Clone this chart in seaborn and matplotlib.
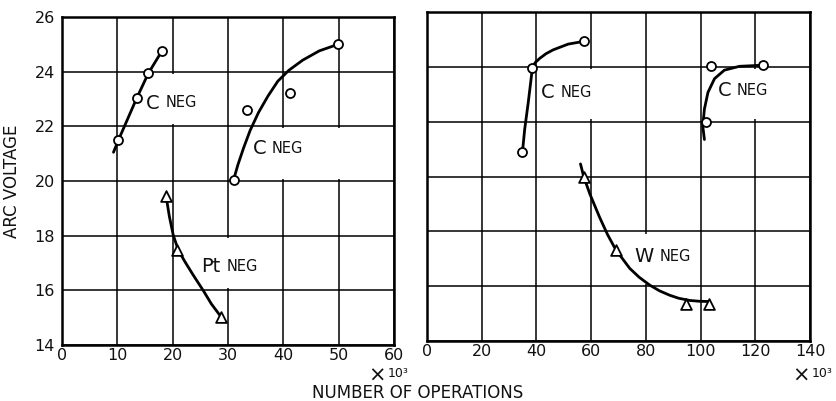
import matplotlib
matplotlib.use("Agg")
import matplotlib.pyplot as plt
from matplotlib.patches import Rectangle
import seaborn as sns
import pandas as pd

# ---- left panel: operations (x 10^3) vs arc voltage ----
c1_curve_x = [9.3, 10.2, 13.5, 15.6, 18.1]
c1_curve_y = [21.05, 21.5, 23.03, 23.94, 24.77]
c1_pts_x = [10.2, 13.5, 15.6, 18.1]
c1_pts_y = [21.5, 23.03, 23.94, 24.77]

c2_curve_x = [31.0, 31.8, 32.8, 34.0, 35.5, 37.2, 39.0, 41.0, 43.5, 46.5, 49.9]
c2_curve_y = [20.04, 20.6, 21.2, 21.85, 22.5, 23.1, 23.65, 24.05, 24.42, 24.76, 25.0]
c2_pts_x = [31.0, 33.4, 41.2, 49.9]
c2_pts_y = [20.04, 22.6, 23.2, 25.0]

pt_curve_x = [18.8, 19.4, 20.1, 21.0, 22.2, 23.7, 25.5, 27.0, 28.7]
pt_curve_y = [19.45, 18.7, 18.02, 17.48, 17.05, 16.56, 16.0, 15.5, 15.04]
pt_pts_x = [18.8, 20.8, 28.7]
pt_pts_y = [19.45, 17.48, 15.04]

# ---- right panel ----
c3_curve_x = [34.9, 35.7, 37.0, 37.9, 38.5, 39.5, 41.2, 43.5, 46.1, 51.6, 57.3]
c3_curve_y = [20.91, 21.72, 22.7, 23.44, 23.96, 24.15, 24.31, 24.48, 24.62, 24.83, 24.93]
c3_pts_x = [34.9, 38.5, 57.3]
c3_pts_y = [20.91, 23.96, 24.93]

c4_curve_x = [101.4, 100.8, 101.4, 102.7, 105.1, 108.7, 114.2, 122.7]
c4_curve_y = [21.35, 21.84, 22.46, 23.07, 23.57, 23.88, 24.02, 24.06]
c4_pts_x = [102.0, 103.9, 122.7]
c4_pts_y = [21.99, 24.02, 24.06]

w_curve_x = [56.1, 57.3, 59.5, 63.1, 66.0, 69.0, 74.1, 77.5, 81.4, 85.0,
             88.7, 92.0, 96.0, 99.5, 103.3]
w_curve_y = [20.46, 19.99, 19.37, 18.51, 17.88, 17.33, 16.65, 16.33, 16.04,
             15.83, 15.67, 15.56, 15.48, 15.45, 15.44]
w_pts_x = [57.3, 69.0, 94.7, 103.0]
w_pts_y = [19.99, 17.33, 15.36, 15.36]

y_ticks = [14, 16, 18, 20, 22, 24, 26]
x_ticks_left = [0, 10, 20, 30, 40, 50, 60]
x_ticks_right = [0, 20, 40, 60, 80, 100, 120, 140]

sns.set_theme(style="white")
plt.rcParams["font.family"] = ["DejaVu Sans"]

fig = plt.figure(figsize=(8.36, 4.01), dpi=100)
ax1 = fig.add_axes([0.0742, 0.1397, 0.3971, 0.818])
ax2 = fig.add_axes([0.5108, 0.1496, 0.4581, 0.8204])

INK = "#111111"


def draw_curve(ax, cx, cy, px, py, marker, msize):
    curve = pd.DataFrame({"x": cx, "y": cy})
    pts = pd.DataFrame({"x": px, "y": py})
    sns.lineplot(data=curve, x="x", y="y", ax=ax, sort=False, color="black",
                 lw=2.0, zorder=3, estimator=None)
    sns.scatterplot(data=pts, x="x", y="y", ax=ax, marker=marker, s=msize,
                    facecolor="white", edgecolor="black", linewidth=1.3,
                    zorder=4)


def label(ax, x, y, big, small, box):
    bx0, bx1, by0, by1 = box
    ax.add_patch(Rectangle((bx0, by0), bx1 - bx0, by1 - by0,
                           facecolor="white", edgecolor="none", zorder=1.5))
    t = ax.text(x, y, big, fontsize=14, va="center", ha="left", zorder=5,
                color=INK)
    ax.annotate(small, xy=(1, 0), xycoords=t, xytext=(4, 1.5),
                textcoords="offset points", fontsize=10.5, va="bottom",
                ha="left", zorder=5, color=INK)


def style(ax, xticks, xmax, show_y):
    ax.set_xlim(0, xmax)
    ax.set_ylim(14, 26)
    ax.set_xticks(xticks)
    ax.set_yticks(y_ticks)
    ax.set_xticklabels([str(v) for v in xticks], fontsize=11.5)
    if show_y:
        ax.set_yticklabels([str(v) for v in y_ticks], fontsize=11.5)
    else:
        ax.set_yticklabels([])
    ax.set_xlabel("")
    ax.set_ylabel("")
    ax.set_axisbelow(True)
    ax.grid(True, color="black", lw=1.1)
    for s in ax.spines.values():
        s.set_visible(True)
        s.set_color("black")
        s.set_linewidth(1.8)
    ax.tick_params(axis="both", length=0, pad=5, colors=INK)
    ax.tick_params(axis="x", pad=2.5)


draw_curve(ax1, c1_curve_x, c1_curve_y, c1_pts_x, c1_pts_y, "o", 42)
draw_curve(ax1, c2_curve_x, c2_curve_y, c2_pts_x, c2_pts_y, "o", 42)
draw_curve(ax1, pt_curve_x, pt_curve_y, pt_pts_x, pt_pts_y, "^", 60)
style(ax1, x_ticks_left, 60, True)
label(ax1, 15.2, 22.85, "C", "NEG", (14.8, 29.4, 22.08, 23.92))
label(ax1, 34.5, 21.2, "C", "NEG", (33.6, 59.6, 20.08, 21.92))
label(ax1, 25.2, 16.86, "Pt", "NEG", (22.5, 38.5, 16.08, 17.92))

draw_curve(ax2, c3_curve_x, c3_curve_y, c3_pts_x, c3_pts_y, "o", 42)
draw_curve(ax2, c4_curve_x, c4_curve_y, c4_pts_x, c4_pts_y, "o", 42)
draw_curve(ax2, w_curve_x, w_curve_y, w_pts_x, w_pts_y, "^", 60)
style(ax2, x_ticks_right, 140, False)
label(ax2, 41.8, 23.07, "C", "NEG", (41.0, 78.0, 22.08, 23.92))
label(ax2, 106.3, 23.14, "C", "NEG", (104.0, 136.0, 22.08, 23.92))
label(ax2, 75.9, 17.09, "W", "NEG", (72.0, 96.0, 16.08, 17.92))

# multiplier notes under each x axis
for xpos in (0.440, 0.947):
    fig.text(xpos, 0.064, "\u00d7", fontsize=15, ha="left", va="center",
             color=INK)
    fig.text(xpos + 0.024, 0.068, "10\u00b3", fontsize=9, ha="left",
             va="center", color=INK)

fig.text(0.50, 0.020, "NUMBER OF OPERATIONS", fontsize=12, ha="center",
         va="center", color=INK)
fig.text(0.014, 0.548, "ARC VOLTAGE", fontsize=12, rotation=90, ha="center",
         va="center", color=INK)

fig.savefig("out.png", dpi=100, facecolor="white")
